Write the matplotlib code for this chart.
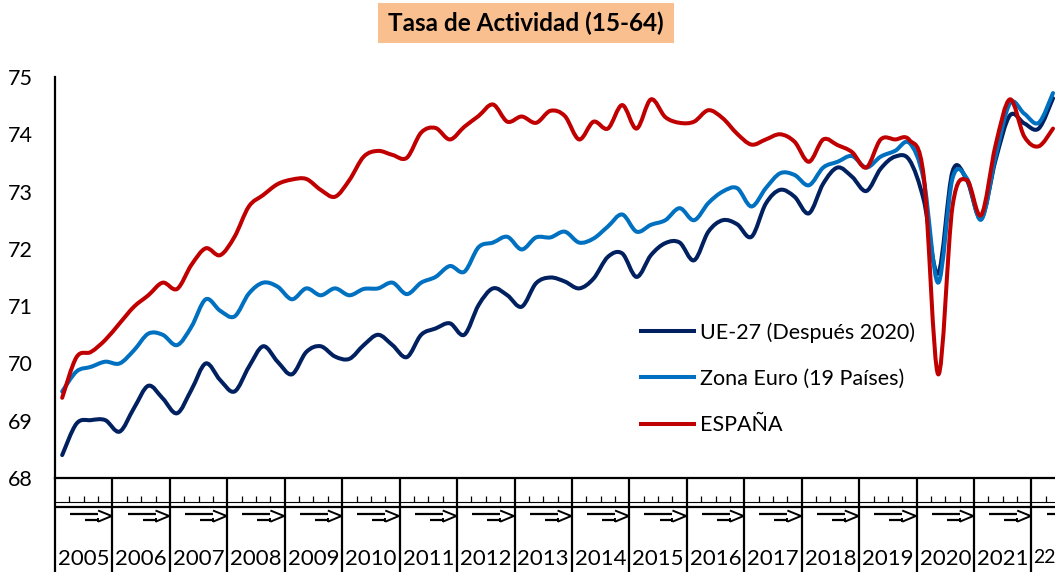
import numpy as np
import matplotlib
matplotlib.use("Agg")
import matplotlib.pyplot as plt
from matplotlib.path import Path
from matplotlib.patches import PathPatch, Rectangle
from matplotlib.lines import Line2D
import matplotlib.transforms as mtransforms

plt.rcParams['font.family'] = ['Lato', 'DejaVu Sans']

# ---------------- data (quarterly, 2005T1 .. 2022T2) ----------------
years = [str(y) for y in range(2005, 2022)] + ["22"]
quarters_per_year = [4] * 17 + [2]

ue27 = [68.40, 68.95, 69.01, 69.01, 68.81, 69.22, 69.61, 69.39,
        69.13, 69.54, 70.00, 69.71, 69.51, 69.94, 70.30, 70.03,
        69.81, 70.20, 70.30, 70.12, 70.08, 70.32, 70.50, 70.32,
        70.11, 70.50, 70.61, 70.70, 70.50, 71.02, 71.31, 71.19,
        70.99, 71.40, 71.50, 71.43, 71.31, 71.48, 71.86, 71.92,
        71.51, 71.89, 72.10, 72.11, 71.80, 72.30, 72.50, 72.43,
        72.21, 72.79, 73.03, 72.91, 72.62, 73.14, 73.42, 73.26,
        73.01, 73.40, 73.61, 73.55, 72.85, 71.57, 73.35, 73.20,
        72.53, 73.55, 74.33, 74.19, 74.10, 74.63]

zona_euro = [69.51, 69.86, 69.94, 70.03, 70.00, 70.23, 70.52, 70.50,
             70.32, 70.64, 71.12, 70.92, 70.82, 71.22, 71.41, 71.34,
             71.12, 71.31, 71.19, 71.31, 71.19, 71.30, 71.31, 71.41,
             71.21, 71.41, 71.51, 71.70, 71.60, 72.03, 72.11, 72.21,
             71.99, 72.20, 72.20, 72.30, 72.11, 72.18, 72.39, 72.60,
             72.30, 72.42, 72.50, 72.71, 72.50, 72.80, 73.00, 73.06,
             72.74, 73.06, 73.32, 73.29, 73.11, 73.42, 73.52, 73.62,
             73.42, 73.61, 73.71, 73.85, 73.20, 71.41, 73.23, 73.23,
             72.51, 73.61, 74.54, 74.36, 74.20, 74.72]

espana = [69.40, 70.11, 70.20, 70.41, 70.70, 70.99, 71.19, 71.41,
          71.30, 71.72, 72.01, 71.89, 72.21, 72.74, 72.94, 73.13,
          73.21, 73.22, 73.03, 72.91, 73.20, 73.61, 73.71, 73.64,
          73.59, 74.03, 74.11, 73.91, 74.13, 74.32, 74.52, 74.22,
          74.31, 74.20, 74.41, 74.32, 73.91, 74.22, 74.10, 74.51,
          74.10, 74.61, 74.30, 74.20, 74.22, 74.42, 74.28, 74.01,
          73.82, 73.91, 74.00, 73.87, 73.52, 73.91, 73.81, 73.69,
          73.42, 73.91, 73.91, 73.90, 73.26, 69.81, 72.74, 73.20,
          72.59, 73.81, 74.61, 73.96, 73.79, 74.10]

series_labels = ["UE-27 (Después 2020)", "Zona Euro (19 Países)", "ESPAÑA"]
series_colors = ["#002060", "#0070C0", "#C00000"]
title = "Tasa de Actividad (15-64)"

# ---------------- figure ----------------
W, H = 1055, 572
fig = plt.figure(figsize=(W / 100, H / 100), dpi=100)
ax_left, ax_bottom = 55 / W, (H - 478) / H
ax = fig.add_axes([ax_left, ax_bottom, 1 - ax_left, 401 / H])

px_per_q = 14.36
n = len(espana)
xs = np.arange(n)


def smooth_path(x, y):
    pts = np.column_stack([x, y]).astype(float)
    m = len(pts)
    verts = [pts[0]]
    codes = [Path.MOVETO]
    for i in range(m - 1):
        p0 = pts[max(i - 1, 0)]
        p1 = pts[i]
        p2 = pts[i + 1]
        p3 = pts[min(i + 2, m - 1)]
        c1 = p1 + (p2 - p0) / 6.0
        c2 = p2 - (p3 - p1) / 6.0
        verts += [c1, c2, p2]
        codes += [Path.CURVE4] * 3
    return Path(verts, codes)


lw = 2.9
for vals, col in zip([ue27, zona_euro, espana], series_colors):
    patch = PathPatch(smooth_path(xs, vals), fill=False, edgecolor=col,
                      lw=lw, capstyle='round', joinstyle='round', zorder=3)
    ax.add_patch(patch)

ax.set_xlim(-0.5, -0.5 + (W - 55) / px_per_q)
ax.set_ylim(68, 75)
ax.set_yticks(range(68, 76))
ax.tick_params(axis='y', length=0, pad=16, labelsize=15.5)
for s in ['top', 'right']:
    ax.spines[s].set_visible(False)
ax.spines['left'].set_linewidth(1.6)
ax.spines['bottom'].set_linewidth(1.6)

# year labels centred in each year block; last (partial) block label starts
# just right of its separator and stays inside the figure
starts = np.concatenate([[0], np.cumsum(quarters_per_year)[:-1]])
centers = starts + np.array(quarters_per_year) / 2.0 - 0.5
centers[-1] = starts[-1] - 0.5 + 0.12
ax.set_xticks(centers)
ax.set_xticklabels(years)
ax.tick_params(axis='x', length=0, pad=51, labelsize=16)
last_lbl = ax.get_xticklabels()[-1]
last_lbl.set_ha('left')
last_lbl.set_fontsize(14)

# multi-level category axis decoration (Excel style)
trans = mtransforms.blended_transform_factory(ax.transData, ax.transAxes)


def fy(ypx):
    return (478 - ypx) / 401.0


kw = dict(color='black', transform=trans, clip_on=False, solid_capstyle='butt')
xmax = ax.get_xlim()[1] + 2
ax.plot([-0.5, xmax], [fy(502), fy(502)], lw=0.8, **kw)
ax.plot([-0.5, xmax], [fy(507), fy(507)], lw=1.6, **kw)
for k, s0 in enumerate(starts):
    b = s0 - 0.5
    ax.plot([b, b], [0, fy(573)], lw=1.6, **kw)
    for q in (1, 2, 3):
        ax.plot([b + q, b + q], [fy(496), fy(502)], lw=0.9, **kw)
    ax.plot([b + 1.05, b + 3.0], [fy(513.5), fy(513.5)], lw=1.6, **kw)
    ax.plot([b + 2.1, b + 3.0], [fy(520), fy(520)], lw=1.6, **kw)
    ax.plot([b + 3.0, b + 3.95, b + 3.0], [fy(510.5), fy(516), fy(521.7)],
            lw=1.4, **kw)
    ax.plot([b + 3.0, b + 3.0], [fy(518), fy(522)], lw=1.4, **kw)

# legend
handles = [Line2D([], [], color=c, lw=lw) for c in series_colors]
ax.legend(handles, series_labels, frameon=False, loc='upper left',
          bbox_to_anchor=(641 / W, 1 - 322 / H), bbox_transform=fig.transFigure,
          borderpad=0, borderaxespad=0, handlelength=2.45, handletextpad=0.3,
          labelspacing=1.22, fontsize=15.5)

# title with filled box
fig.add_artist(Rectangle((378 / W, 1 - 43 / H), 296 / W, 40 / H,
                         transform=fig.transFigure, facecolor='#F9BF8F',
                         edgecolor='none'))
fig.text(526 / W, 1 - 23 / H, title, ha='center', va='center',
         fontsize=17.5, fontweight='bold', color='black')

fig.savefig("out.png", dpi=100)
